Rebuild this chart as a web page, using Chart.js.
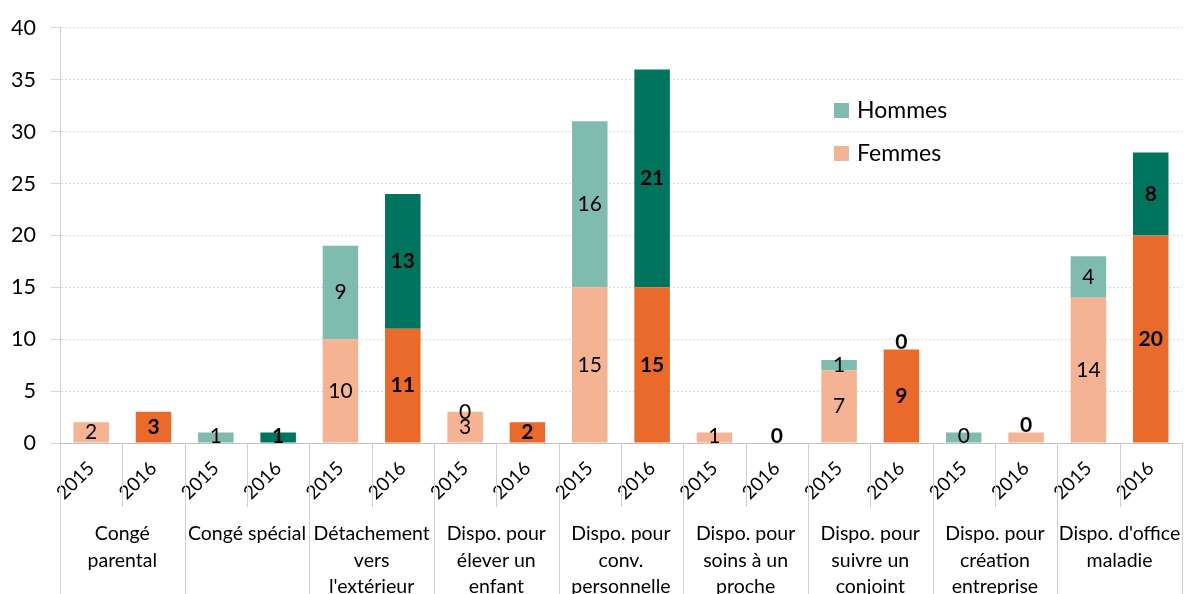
<!DOCTYPE html>
<html>
<head>
<meta charset="utf-8">
<script src="https://cdn.jsdelivr.net/npm/chart.js@4.4.1/dist/chart.umd.min.js"></script>
<style>
  html, body { margin: 0; padding: 0; background: #fff; overflow: hidden; }
  #wrap { position: relative; width: 1195px; height: 607px; }
</style>
</head>
<body>
<div id="wrap"><canvas id="myChart"></canvas></div>
<script>
const categories = [
  ["Congé", "parental"],
  ["Congé spécial"],
  ["Détachement", "vers", "l'extérieur"],
  ["Dispo. pour", "élever un", "enfant"],
  ["Dispo. pour", "conv.", "personnelle"],
  ["Dispo. pour", "soins à un", "proche"],
  ["Dispo. pour", "suivre un", "conjoint"],
  ["Dispo. pour", "création", "entreprise"],
  ["Dispo. d'office", "maladie"],
];
const years = ["2015", "2016"];

// one value per bar: category x year (2015, 2016)
const femmes = [2, 3, 0, 0, 10, 11, 3, 2, 15, 15, 1, 0, 7, 9, 0, 1, 14, 20];
const hommes = [0, 0, 1, 1, 9, 13, 0, 0, 16, 21, 0, 0, 1, 0, 1, 0, 4, 8];

// which value labels are shown on the source chart
const femmesShown = [1, 1, 0, 0, 1, 1, 1, 1, 1, 1, 1, 0, 1, 1, 1, 0, 1, 1];
const hommesShown = [0, 0, 1, 1, 1, 1, 1, 0, 1, 1, 0, 1, 1, 1, 0, 1, 1, 1];

const yearLabels = categories.flatMap(() => years);

const LIGHT_TEAL = "#80BBAF";
const DARK_TEAL = "#00745F";
const LIGHT_ORANGE = "#F4B494";
const DARK_ORANGE = "#E96A2B";
const FONT = "Lato, 'Open Sans', sans-serif";

const femmesColors = femmes.map((v, i) => (i % 2 ? DARK_ORANGE : LIGHT_ORANGE));
femmesColors[15] = LIGHT_ORANGE; // création 2016 is light on the original
const hommesColors = hommes.map((v, i) => (i % 2 ? DARK_TEAL : LIGHT_TEAL));

const separators = {
  id: "separators",
  afterDraw(chart) {
    const { ctx, chartArea } = chart;
    const xs = chart.scales.x;
    const n = yearLabels.length;
    ctx.save();
    ctx.strokeStyle = "#D0D0D0";
    ctx.lineWidth = 1;
    for (let i = 0; i <= n; i++) {
      const x = Math.round(xs.left + (i * xs.width) / n) + 0.5;
      const yEnd = i % 2 === 0 ? chart.height : chartArea.bottom + 64;
      ctx.beginPath();
      ctx.moveTo(x, chartArea.bottom);
      ctx.lineTo(x, yEnd);
      ctx.stroke();
    }
    ctx.restore();
  },
};

const valueLabels = {
  id: "valueLabels",
  afterDatasetsDraw(chart) {
    const { ctx, chartArea } = chart;
    const shown = [femmesShown, hommesShown];
    ctx.save();
    ctx.textAlign = "center";
    ctx.textBaseline = "middle";
    ctx.fillStyle = "#000";
    chart.data.datasets.forEach((ds, di) => {
      const meta = chart.getDatasetMeta(di);
      meta.data.forEach((el, i) => {
        if (!shown[di][i]) return;
        const v = ds.data[i];
        const bold = i % 2 === 1;
        let y = v > 0 ? (el.y + el.base) / 2 : el.y - (bold ? 7 : 0);
        y = Math.min(y, chartArea.bottom - 7);
        ctx.font = (bold ? "bold " : "") + "21px " + FONT;
        ctx.fillText(String(v), el.x, y);
      });
    });
    ctx.restore();
  },
};

const legendBox = {
  id: "legendBox",
  afterDraw(chart) {
    const { ctx } = chart;
    const items = [
      { text: "Hommes", color: LIGHT_TEAL, y: 110 },
      { text: "Femmes", color: LIGHT_ORANGE, y: 153 },
    ];
    ctx.save();
    ctx.font = "23px " + FONT;
    ctx.textBaseline = "middle";
    items.forEach((it) => {
      ctx.fillStyle = it.color;
      ctx.fillRect(834, it.y - 7, 15, 15);
      ctx.fillStyle = "#000";
      ctx.fillText(it.text, 857, it.y + 1);
    });
    ctx.restore();
  },
};

const ctx = document.getElementById("myChart").getContext("2d");

const myChart = new Chart(ctx, {
  type: "bar",
  data: {
    labels: yearLabels,
    datasets: [
      {
        label: "Femmes",
        data: femmes,
        backgroundColor: femmesColors,
        borderWidth: 0,
      },
      {
        label: "Hommes",
        data: hommes,
        backgroundColor: hommesColors,
        borderWidth: 0,
      },
    ],
  },
  options: {
    responsive: true,
    maintainAspectRatio: false,
    animation: false,
    layout: { padding: { top: 12, right: 1, left: 0, bottom: 0 } },
    datasets: {
      bar: { barPercentage: 0.57, categoryPercentage: 1 },
    },
    plugins: {
      legend: { display: false },
      tooltip: { enabled: false },
    },
    scales: {
      x: {
        stacked: true,
        offset: true,
        grid: { display: false, drawTicks: false },
        border: { color: "#BFBFBF" },
        ticks: {
          autoSkip: false,
          maxRotation: 45,
          minRotation: 45,
          padding: 14,
          color: "#000",
          font: { family: FONT, size: 19 },
        },
        afterFit(s) {
          s.height = 64;
        },
      },
      xCat: {
        type: "category",
        position: "bottom",
        labels: categories,
        offset: true,
        grid: { display: false, drawTicks: false },
        border: { display: false },
        ticks: {
          autoSkip: false,
          maxRotation: 0,
          minRotation: 0,
          padding: 14,
          color: "#000",
          font: { family: FONT, size: 19.5, lineHeight: 1.35 },
        },
        afterFit(s) {
          s.height = 100;
        },
      },
      y: {
        stacked: true,
        min: 0,
        max: 40,
        ticks: {
          stepSize: 5,
          padding: 15,
          color: "#000",
          font: { family: FONT, size: 21.5 },
        },
        grid: { color: "#D9D9D9", tickLength: 9 },
        border: { color: "#D0D0D0", dash: [2, 2] },
        afterFit(s) {
          s.width = 60;
        },
      },
    },
  },
  plugins: [separators, valueLabels, legendBox],
});
</script>
</body>
</html>
